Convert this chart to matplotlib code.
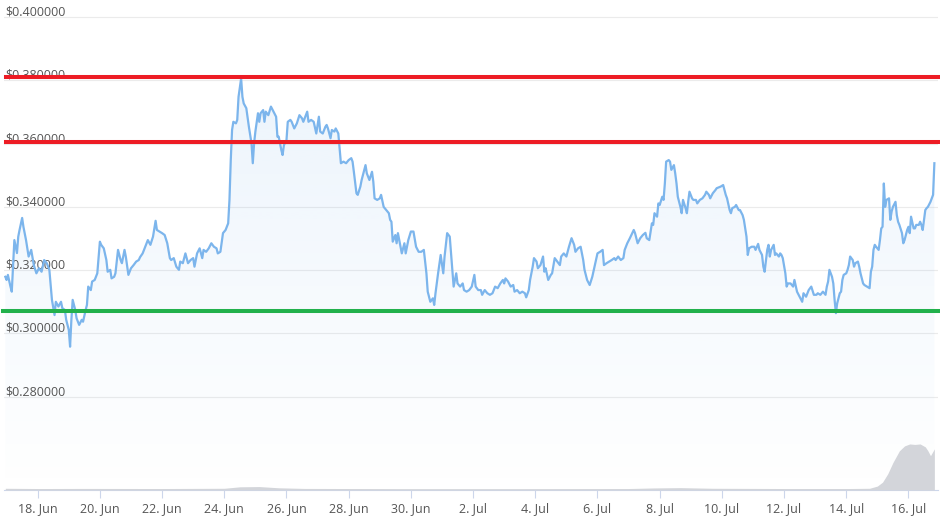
import datetime as dt
import numpy as np
import matplotlib
matplotlib.use("Agg")
import matplotlib.pyplot as plt
import matplotlib.dates as mdates
from matplotlib.colors import to_rgb

plt.rcParams['font.family'] = ['Open Sans', 'DejaVu Sans']

# ---------------- data ----------------
start = dt.datetime(2023, 6, 17)   # hours below are counted from this moment

hours = [
    # 17-21 Jun
    -1, 0, 1, 3, 4, 5, 6, 8, 9, 10, 12, 13, 15, 17, 19, 21, 23, 25, 27, 29,
    31, 33, 35, 37, 38, 40, 42, 43, 45, 46, 48, 49, 50, 51, 53, 54, 56, 58, 59, 61,
    62, 63, 65, 66, 68, 70, 72, 73, 75, 77, 78, 80, 81, 83, 84, 86, 88, 89, 91, 92,
    94, 96, 98, 100, 102, 103, 105, 108, 109, 111, 113, 115, 116, 118,
    # 22-27 Jun
    120, 122, 124, 126, 127, 129, 131, 133, 134, 136, 138, 140, 142, 144, 145, 147,
    149, 151, 152, 154, 156, 158, 160, 162, 163, 165, 167, 169, 171, 172, 173, 174,
    175, 177, 178, 179, 181, 182, 183, 185, 187, 189, 190, 191, 192, 194, 195, 196,
    198, 199, 200, 202, 204, 206, 208, 209, 210, 212, 213, 214, 216, 217, 219, 220,
    222, 224, 226, 228, 229, 232, 233, 235, 237, 239, 241,
    # 27 Jun - 2 Jul
    242, 244, 246, 247, 248, 250, 251, 253, 254, 256, 257, 258, 260, 262, 264, 266,
    267, 268, 270, 271, 273, 274, 276, 277, 278, 280, 282, 283, 284, 286, 288, 289,
    291, 293, 295, 296, 297, 298, 300, 301, 302, 304, 305, 307, 308, 310, 312, 314,
    316, 318, 320, 322, 324, 325, 327, 329, 330, 331, 333, 335, 337, 338, 340, 342,
    343, 345, 347, 348, 350, 352, 353, 355, 357, 359, 361, 362, 364,
    # 2-7 Jul
    366, 367, 369, 371, 373, 375, 377, 379, 381, 383, 384, 385, 387, 389, 391, 392,
    394, 396, 398, 400, 401, 403, 404, 406, 407, 409, 410, 412, 414, 415, 416, 418,
    420, 421, 423, 425, 427, 428, 430, 432, 434, 436, 438, 439, 441, 443, 445, 446,
    448, 450, 452, 454, 456, 458, 460, 461, 463, 465, 467, 469, 470, 472, 474, 476,
    477, 479, 481,
    # 7-12 Jul
    484, 485, 487, 489, 491, 493, 494, 496, 498, 499, 500, 502, 503, 504, 506, 507,
    508, 509, 511, 512, 513, 515, 516, 517, 518, 520, 521, 522, 524, 525, 526, 527,
    529, 530, 532, 533, 535, 537, 539, 540, 542, 543, 545, 547, 548, 551, 553, 554,
    555, 556, 558, 559, 560, 562, 563, 565, 566, 568, 569, 571, 572, 573, 575, 577,
    578, 580, 581, 583, 584, 585, 587, 588, 589, 590, 592, 593, 594, 596, 597, 598,
    599, 601, 602, 603,
    # 12-16 Jul
    605, 607, 608, 610, 612, 614, 615, 617, 619, 621, 623, 625, 626, 628, 630, 632,
    633, 634, 635, 637, 638, 639, 640, 641, 643, 644, 645, 646, 648, 649, 650, 651,
    653, 654, 655, 657, 658, 659, 661, 662, 664, 666, 667, 668, 669, 670, 671, 673,
    674, 675, 676, 677, 678, 679, 681, 682, 683, 684, 686, 687, 688, 689, 691, 692,
    693, 695, 696, 697, 698, 700, 701, 702, 704, 705, 706, 707, 709, 710, 711, 713,
    714, 715, 716,
]

prices = [
    # 17-21 Jun
    0.3179, 0.3169, 0.3185, 0.3148, 0.3132, 0.3211, 0.3295, 0.3254, 0.3306, 0.3327,
    0.3365, 0.3337, 0.3295, 0.3243, 0.3264, 0.3216, 0.3190, 0.3206, 0.3195, 0.3232,
    0.3222, 0.3201, 0.3106, 0.3058, 0.3100, 0.3085, 0.3100, 0.3080, 0.3074, 0.3043,
    0.3011, 0.2958, 0.3043, 0.3106, 0.3074, 0.3048, 0.3027, 0.3043, 0.3037, 0.3074,
    0.3090, 0.3148, 0.3137, 0.3164, 0.3169, 0.3190, 0.3290, 0.3280, 0.3269, 0.3232,
    0.3195, 0.3201, 0.3174, 0.3179, 0.3190, 0.3264, 0.3232, 0.3222, 0.3264, 0.3243,
    0.3185, 0.3206, 0.3216, 0.3227, 0.3232, 0.3241, 0.3253, 0.3285, 0.3295, 0.3280,
    0.3306, 0.3356, 0.3327, 0.3322,
    # 22-27 Jun
    0.3317, 0.3311, 0.3285, 0.3238, 0.3232, 0.3238, 0.3211, 0.3201, 0.3227, 0.3222,
    0.3253, 0.3222, 0.3232, 0.3238, 0.3211, 0.3253, 0.3269, 0.3238, 0.3264, 0.3258,
    0.3269, 0.3285, 0.3274, 0.3269, 0.3253, 0.3258, 0.3317, 0.3327, 0.3348, 0.3422,
    0.3548, 0.3643, 0.3669, 0.3664, 0.3675, 0.3748, 0.3806, 0.3748, 0.3727, 0.3712,
    0.3653, 0.3601, 0.3538, 0.3601, 0.3638, 0.3696, 0.3669, 0.3696, 0.3706, 0.3669,
    0.3701, 0.3690, 0.3717, 0.3701, 0.3685, 0.3622, 0.3622, 0.3580, 0.3564, 0.3595,
    0.3611, 0.3669, 0.3675, 0.3669, 0.3648, 0.3664, 0.3690, 0.3680, 0.3669, 0.3701,
    0.3669, 0.3675, 0.3669, 0.3632, 0.3685,
    # 27 Jun - 2 Jul
    0.3638, 0.3632, 0.3653, 0.3659, 0.3648, 0.3617, 0.3643, 0.3638, 0.3648, 0.3632,
    0.3585, 0.3538, 0.3543, 0.3538, 0.3548, 0.3554, 0.3543, 0.3511, 0.3443, 0.3438,
    0.3464, 0.3485, 0.3517, 0.3532, 0.3506, 0.3485, 0.3511, 0.3480, 0.3427, 0.3422,
    0.3427, 0.3438, 0.3400, 0.3390, 0.3380, 0.3359, 0.3353, 0.3290, 0.3311, 0.3285,
    0.3317, 0.3274, 0.3253, 0.3285, 0.3253, 0.3295, 0.3322, 0.3322, 0.3274, 0.3258,
    0.3258, 0.3264, 0.3190, 0.3132, 0.3100, 0.3111, 0.3090, 0.3127, 0.3190, 0.3248,
    0.3190, 0.3243, 0.3317, 0.3306, 0.3253, 0.3148, 0.3190, 0.3158, 0.3148, 0.3158,
    0.3137, 0.3132, 0.3137, 0.3148, 0.3185, 0.3148, 0.3137,
    # 2-7 Jul
    0.3137, 0.3122, 0.3137, 0.3127, 0.3122, 0.3127, 0.3148, 0.3143, 0.3158, 0.3169,
    0.3158, 0.3174, 0.3164, 0.3148, 0.3153, 0.3132, 0.3137, 0.3127, 0.3132, 0.3127,
    0.3114, 0.3137, 0.3169, 0.3211, 0.3238, 0.3227, 0.3206, 0.3216, 0.3243, 0.3195,
    0.3206, 0.3169, 0.3185, 0.3190, 0.3238, 0.3227, 0.3216, 0.3243, 0.3253, 0.3243,
    0.3274, 0.3301, 0.3280, 0.3258, 0.3269, 0.3274, 0.3232, 0.3201, 0.3169, 0.3153,
    0.3179, 0.3216, 0.3253, 0.3258, 0.3264, 0.3216, 0.3222, 0.3227, 0.3232, 0.3238,
    0.3232, 0.3243, 0.3232, 0.3238, 0.3264, 0.3285, 0.3301,
    # 7-12 Jul
    0.3327, 0.3317, 0.3285, 0.3301, 0.3311, 0.3318, 0.3301, 0.3295, 0.3348, 0.3343,
    0.3380, 0.3369, 0.3411, 0.3406, 0.3432, 0.3422, 0.3474, 0.3543, 0.3548, 0.3543,
    0.3517, 0.3532, 0.3506, 0.3474, 0.3432, 0.3400, 0.3380, 0.3422, 0.3396, 0.3380,
    0.3416, 0.3448, 0.3427, 0.3422, 0.3422, 0.3411, 0.3422, 0.3427, 0.3438, 0.3448,
    0.3438, 0.3427, 0.3443, 0.3453, 0.3459, 0.3464, 0.3469, 0.3453, 0.3438, 0.3427,
    0.3390, 0.3380, 0.3396, 0.3400, 0.3406, 0.3390, 0.3390, 0.3374, 0.3359, 0.3306,
    0.3248, 0.3269, 0.3274, 0.3274, 0.3264, 0.3283, 0.3264, 0.3248, 0.3211, 0.3195,
    0.3264, 0.3280, 0.3243, 0.3264, 0.3280, 0.3248, 0.3253, 0.3243, 0.3253, 0.3248,
    0.3238, 0.3190, 0.3148, 0.3158,
    # 12-16 Jul
    0.3158, 0.3148, 0.3169, 0.3132, 0.3116, 0.3100, 0.3127, 0.3116, 0.3137, 0.3148,
    0.3122, 0.3122, 0.3127, 0.3122, 0.3132, 0.3122, 0.3148, 0.3164, 0.3201, 0.3179,
    0.3158, 0.3106, 0.3064, 0.3095, 0.3127, 0.3132, 0.3169, 0.3185, 0.3190, 0.3201,
    0.3216, 0.3243, 0.3232, 0.3211, 0.3222, 0.3227, 0.3211, 0.3190, 0.3158, 0.3153,
    0.3148, 0.3143, 0.3195, 0.3211, 0.3264, 0.3280, 0.3274, 0.3264, 0.3295, 0.3332,
    0.3337, 0.3474, 0.3400, 0.3422, 0.3427, 0.3359, 0.3385, 0.3400, 0.3416, 0.3374,
    0.3353, 0.3343, 0.3317, 0.3285, 0.3295, 0.3327, 0.3337, 0.3317, 0.3369, 0.3332,
    0.3332, 0.3343, 0.3343, 0.3353, 0.3343, 0.3327, 0.3390, 0.3396, 0.3400, 0.3416,
    0.3427, 0.3438, 0.3538,
]

# trading volume (arbitrary units, only the shape matters)
vol_hours = [-1, 24, 60, 120, 168, 180, 195, 210, 230, 300, 400, 480, 500, 520,
             545, 600, 650, 666, 672, 676, 680, 684, 689, 693, 697, 701, 705, 709,
             711, 713, 716]
volumes = [35, 30, 32, 30, 35, 65, 70, 45, 32, 28, 28, 30, 42, 48,
           35, 30, 30, 35, 80, 160, 330, 560, 800, 900, 940, 930, 940, 880,
           800, 700, 840]

resistance_levels = [0.3811, 0.3606]
support_level = 0.3072

ytick_values = [0.28, 0.30, 0.32, 0.34, 0.36, 0.38, 0.40]
xtick_dates = ['2023-06-18', '2023-06-20', '2023-06-22', '2023-06-24', '2023-06-26',
               '2023-06-28', '2023-06-30', '2023-07-02', '2023-07-04', '2023-07-06',
               '2023-07-08', '2023-07-10', '2023-07-12', '2023-07-14', '2023-07-16']
xtick_labels = ['18. Jun', '20. Jun', '22. Jun', '24. Jun', '26. Jun', '28. Jun',
                '30. Jun', '2. Jul', '4. Jul', '6. Jul', '8. Jul', '10. Jul',
                '12. Jul', '14. Jul', '16. Jul']

assert len(hours) == len(prices)
assert len(vol_hours) == len(volumes)

# ---------------- figure ----------------
W, H = 940, 521
fig = plt.figure(figsize=(W / 100, H / 100), dpi=100)
fig.patch.set_facecolor('white')
ax = fig.add_axes([4 / W, 31 / H, 934 / W, 490 / H])

t0 = mdates.date2num(start)
x = t0 + np.array(hours, dtype=float) / 24.0
p = np.array(prices)
ylo, yhi = 0.2505, 0.4054
xlo, xhi = t0 - 2.0 / 24, t0 + 718.8 / 24

# grid lines
for v in ytick_values:
    ax.axhline(v, color='#ebebeb', lw=0.8, zorder=0)

# gradient area under the price line
poly = ax.fill_between(x, p, ylo, facecolor='none', edgecolor='none')
grad = np.linspace(0.17, 0.0, 256)
rgba = np.zeros((256, 1, 4))
rgba[..., :3] = to_rgb('#7cb5ec')
rgba[..., 3] = grad[:, None]
im = ax.imshow(rgba, extent=[x[0], x[-1], ylo, yhi], aspect='auto',
               origin='upper', zorder=1, interpolation='bilinear')
im.set_clip_path(poly.get_paths()[0], transform=ax.transData)

# price line
ax.plot(x, p, color='#7cb5ec', lw=1.6, zorder=3, solid_joinstyle='round')

ax.set_xlim(xlo, xhi)
ax.set_ylim(ylo, yhi)

# y labels inside the plot
for v in ytick_values:
    ax.annotate(f"${v:.6f}", xy=(0, v), xycoords=ax.get_yaxis_transform(),
                xytext=(1, 1.5), textcoords='offset pixels', ha='left',
                va='baseline', fontsize=9, color='#555555', zorder=2)

# horizontal level lines (resistance red, support green)
for lv in resistance_levels:
    ax.axhline(lv, xmin=2 / 934, xmax=936 / 934, color='#ed1c24', lw=2.9,
               clip_on=False, zorder=6)
ax.axhline(support_level, xmin=-1 / 934, xmax=936 / 934, color='#22b14c', lw=2.9,
           clip_on=False, zorder=6)

# x axis
tick_nums = mdates.date2num([dt.datetime.strptime(d, '%Y-%m-%d') for d in xtick_dates])
ax.set_xticks(tick_nums)
ax.set_xticklabels(xtick_labels)
ax.tick_params(axis='x', length=6, width=0.8, color='#ccd6eb', labelcolor='#555555',
               labelsize=9, pad=3)
ax.set_yticks([])
for s in ['left', 'right', 'top']:
    ax.spines[s].set_visible(False)
ax.spines['bottom'].set_color('#ccd6eb')
ax.spines['bottom'].set_linewidth(0.8)
ax.set_facecolor('none')

# volume area
axv = ax.twinx()
vx = t0 + np.array(vol_hours, dtype=float) / 24.0
axv.fill_between(vx, volumes, 0, color='#d3d5da', lw=0)
axv.set_ylim(0, 10000)
axv.set_xlim(xlo, xhi)
axv.set_axis_off()

fig.savefig('out.png', dpi=100)
